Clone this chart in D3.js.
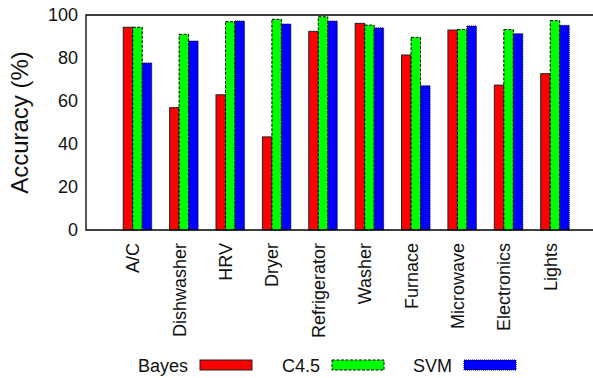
<!DOCTYPE html>
<html>
<head>
<meta charset="utf-8">
<script src="https://cdn.jsdelivr.net/npm/d3@7"></script>
<style>
  html, body { margin: 0; padding: 0; background: #fff; }
  svg { display: block; font-family: "Liberation Sans", Arial, Helvetica, sans-serif; }
</style>
</head>
<body>
<svg id="chart" width="593" height="378"></svg>
<script>
// Appliance classification accuracy per classifier
const categories = ["A/C", "Dishwasher", "HRV", "Dryer", "Refrigerator", "Washer", "Furnace", "Microwave", "Electronics", "Lights"];
const bayes = [94.3, 56.9, 62.9, 43.3, 92.4, 96.1, 81.4, 93.0, 67.4, 72.7];
const c45   = [94.3, 91.0, 96.9, 98.0, 99.2, 95.3, 89.6, 93.3, 93.2, 97.4];
const svm   = [77.7, 87.9, 97.2, 95.8, 97.2, 94.0, 67.1, 94.9, 91.3, 95.2];
const seriesNames = ["Bayes", "C4.5", "SVM"];
const yTicks = [0, 20, 40, 60, 80, 100];

const seriesValues = [bayes, c45, svm];
const fills = ["#ff0000", "#00ff00", "#0000ff"];
const strokes = ["#222", "#000", "#000"];
const dashes = [null, "3,1.5", "1,1"];

const svg = d3.select("#chart");
const plot = { left: 86, right: 593, top: 15, bottom: 230 };

// Categories sit on integer positions; the frame shows a little margin on each side
const x = d3.scaleLinear().domain([-1.11, 9.82]).range([plot.left, plot.right]);
const y = d3.scaleLinear().domain([0, 100]).range([plot.bottom, plot.top]);

const groupW = x(0.615) - x(0);     // full cluster width
const barW = groupW / 3;

// Bars
seriesValues.forEach((vals, s) => {
  svg.append("g").selectAll("rect")
    .data(vals)
    .join("rect")
    .attr("x", (d, i) => x(i) - groupW / 2 + s * barW)
    .attr("y", d => y(d))
    .attr("width", barW)
    .attr("height", d => y(0) - y(d))
    .attr("fill", fills[s])
    .attr("stroke", strokes[s])
    .attr("stroke-width", 1)
    .attr("stroke-dasharray", dashes[s]);
});

// Frame: left, top and bottom edges
svg.append("path")
  .attr("d", `M${plot.right},${plot.top}H${plot.left}V${plot.bottom}H${plot.right}`)
  .attr("fill", "none")
  .attr("stroke", "#000")
  .attr("stroke-width", 1.3);

// Y axis labels
const yAxis = d3.axisLeft(y).tickValues(yTicks).tickSize(0).tickPadding(8);
const yg = svg.append("g").attr("transform", `translate(${plot.left},0)`).call(yAxis);
yg.select(".domain").remove();
yg.selectAll("text")
  .attr("font-size", 18)
  .attr("font-family", "Liberation Sans, Arial, sans-serif")
  .attr("fill", "#111");

// Y title
svg.append("text")
  .attr("transform", `translate(28,${(plot.top + plot.bottom) / 2}) rotate(-90)`)
  .attr("text-anchor", "middle")
  .attr("font-size", 24)
  .attr("fill", "#111")
  .text("Accuracy (%)");

// Category labels, rotated
svg.append("g").selectAll("text")
  .data(categories)
  .join("text")
  .attr("transform", (d, i) => `translate(${x(i)},243) rotate(-90)`)
  .attr("text-anchor", "end")
  .attr("dy", "0.1em")
  .attr("font-size", 18)
  .attr("fill", "#111")
  .text(d => d);

// Legend
const legendTextX = [188, 320, 452];
const legend = svg.append("g");
seriesNames.forEach((name, s) => {
  legend.append("text")
    .attr("x", legendTextX[s])
    .attr("y", 371.5)
    .attr("text-anchor", "end")
    .attr("font-size", 18)
    .attr("fill", "#111")
    .text(name);
  legend.append("rect")
    .attr("x", legendTextX[s] + 12)
    .attr("y", 360)
    .attr("width", 52)
    .attr("height", 10)
    .attr("fill", fills[s])
    .attr("stroke", strokes[s])
    .attr("stroke-width", 1)
    .attr("stroke-dasharray", dashes[s]);
});
</script>
</body>
</html>
